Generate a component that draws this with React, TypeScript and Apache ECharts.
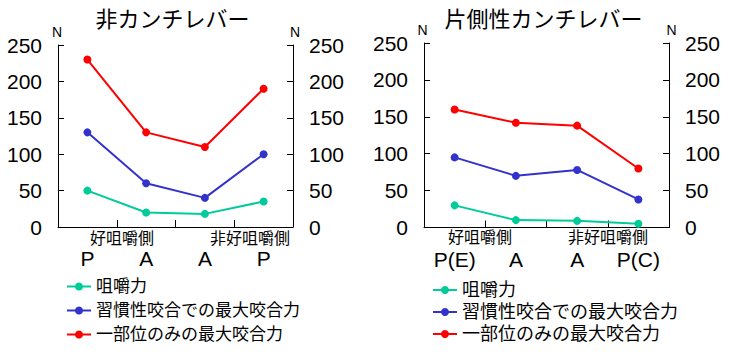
import { useEffect, useRef } from "react";
import * as echarts from "echarts";

const seriesNames = ["咀嚼力", "習慣性咬合での最大咬合力", "一部位のみの最大咬合力"];
const seriesColors = ["#00CC99", "#3333CC", "#FF0000"];
const leftTitle = "非カンチレバー";
const rightTitle = "片側性カンチレバー";
const leftCategories = ["P", "A", "A", "P"];
const rightCategories = ["P(E)", "A", "A", "P(C)"];
const sideLabels = ["好咀嚼側", "非好咀嚼側"];
const leftChewing = [50, 20, 18, 35];
const leftHabitual = [130, 60, 40, 100];
const leftSingle = [230, 130, 110, 190];
const rightChewing = [30, 10, 9, 5];
const rightHabitual = [95, 70, 78, 38];
const rightSingle = [160, 142, 138, 80];
const yMin = 0;
const yMax = 250;
const yInterval = 50;
const yUnit = "N";

const FONT = "'Liberation Sans', 'Noto Sans CJK JP', sans-serif";

export default function App() {
  const ref = useRef<HTMLDivElement>(null);
  useEffect(() => {
    if (!ref.current) return;
    const chart = echarts.init(ref.current, null, { renderer: "svg" });

    const grids = [
      { left: 58, top: 45, width: 235, height: 182 },
      { left: 424, top: 43, width: 245, height: 184.5 },
    ];

    const mkY = (gridIndex: number, position: "left" | "right", nameShift: number) => ({
      type: "value",
      gridIndex,
      position,
      min: yMin,
      max: yMax,
      interval: yInterval,
      name: yUnit,
      nameLocation: "end",
      nameGap: 6,
      nameTextStyle: {
        fontSize: 14,
        color: "#000",
        fontFamily: FONT,
        align: "center",
        padding: nameShift < 0 ? [0, -nameShift * 2, 0, 0] : [0, 0, 0, nameShift * 2],
      },
      axisLine: { show: true, lineStyle: { color: "#000", width: 1 } },
      axisTick: { show: true, inside: true, length: 6, lineStyle: { color: "#000" } },
      splitLine: { show: false },
      axisLabel: { fontSize: 21, color: "#000", fontFamily: FONT, margin: 16 },
    });

    const mkX = (gridIndex: number, data: string[]) => ({
      type: "category",
      gridIndex,
      data,
      boundaryGap: true,
      axisLine: { show: true, lineStyle: { color: "#000", width: 1 } },
      axisTick: { show: true, inside: true, length: 7, interval: 0, lineStyle: { color: "#000" } },
      axisLabel: { fontSize: 21, color: "#000", fontFamily: FONT, margin: 21, interval: 0 },
      splitLine: { show: false },
    });

    const mkSeries = (name: string, color: string, data: number[], xi: number, yi: number) => ({
      type: "line",
      name,
      data,
      xAxisIndex: xi,
      yAxisIndex: yi,
      symbol: "circle",
      symbolSize: 8,
      itemStyle: { color },
      lineStyle: { color, width: 2 },
    });

    const subText = (text: string, x: number, y: number) => ({
      type: "text",
      x,
      y,
      style: {
        text,
        fontSize: 16,
        fontFamily: FONT,
        fill: "#000",
        verticalAlign: "middle",
        align: "left",
      },
    });

    chart.setOption({
      animation: false,
      backgroundColor: "#fff",
      title: [
        {
          text: leftTitle,
          left: 172.5,
          top: 8,
          padding: 0,
          textAlign: "center",
          textStyle: { fontSize: 22, fontWeight: "normal", color: "#000", fontFamily: FONT },
        },
        {
          text: rightTitle,
          left: 543.5,
          top: 8,
          padding: 0,
          textAlign: "center",
          textStyle: { fontSize: 22, fontWeight: "normal", color: "#000", fontFamily: FONT },
        },
      ],
      legend: [
        {
          data: seriesNames,
          orient: "vertical",
          left: 66,
          top: 278,
          padding: 0,
          itemWidth: 24,
          itemHeight: 10,
          itemGap: 7,
          textStyle: { fontSize: 17, color: "#000", fontFamily: FONT },
        },
        {
          data: seriesNames,
          orient: "vertical",
          left: 432,
          top: 281,
          padding: 0,
          itemWidth: 24,
          itemHeight: 10,
          itemGap: 4,
          textStyle: { fontSize: 18, color: "#000", fontFamily: FONT },
        },
      ],
      grid: grids,
      xAxis: [mkX(0, leftCategories), mkX(1, rightCategories)],
      yAxis: [mkY(0, "left", -1), mkY(0, "right", 2), mkY(1, "left", -1.5), mkY(1, "right", 2.5)],
      series: [
        mkSeries(seriesNames[0], seriesColors[0], leftChewing, 0, 0),
        mkSeries(seriesNames[1], seriesColors[1], leftHabitual, 0, 0),
        mkSeries(seriesNames[2], seriesColors[2], leftSingle, 0, 0),
        mkSeries(seriesNames[0], seriesColors[0], rightChewing, 1, 2),
        mkSeries(seriesNames[1], seriesColors[1], rightHabitual, 1, 2),
        mkSeries(seriesNames[2], seriesColors[2], rightSingle, 1, 2),
      ],
      graphic: [
        subText(sideLabels[0], 90, 238),
        subText(sideLabels[1], 210, 238),
        subText(sideLabels[0], 448, 237),
        subText(sideLabels[1], 568, 237),
      ],
    });

    return () => chart.dispose();
  }, []);

  return (
    <div
      ref={ref}
      style={{ position: "fixed", left: 0, top: 0, width: 733, height: 354, background: "#fff" }}
    />
  );
}
